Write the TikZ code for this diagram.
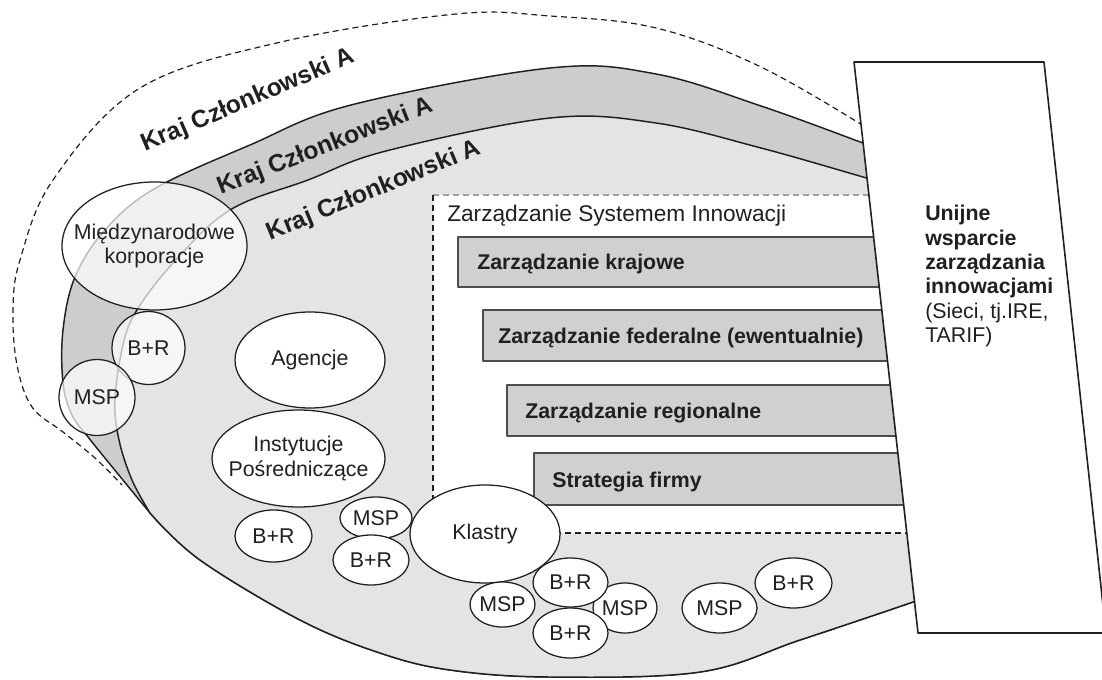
\documentclass[tikz,border=0pt]{standalone}
\usepackage{fontspec}
\setmainfont{Liberation Sans}
\usetikzlibrary{shapes.geometric}
\definecolor{bandgray}{HTML}{CDCDCF}
\definecolor{innergray}{HTML}{E4E4E6}
\definecolor{boxgray}{HTML}{D0D0D0}
\definecolor{ink}{HTML}{202020}
\newcommand\bodyfont{\fontsize{16pt}{18.3pt}\selectfont}
\newcommand\titlefont{\fontsize{17pt}{19pt}\selectfont}
\newcommand\lblfont{\bfseries\fontsize{18.5pt}{21pt}\selectfont}
\begin{document}
\begin{tikzpicture}[x=0.75pt,y=-0.75pt, line join=round,
  every node/.style={text=ink, font=\bodyfont, inner sep=0pt},
  rim/.style={draw=ink, line width=1.1pt},
  oval/.style 2 args={ellipse, draw=ink, line width=0.95pt, fill=white,
    minimum width={1.5pt*#1}, minimum height={1.5pt*#2}},
  glassy/.style={fill opacity=0.7},
  govbox/.style={draw=ink!80, line width=1.1pt, fill=boxgray},
  govtext/.style={anchor=base west, font=\bodyfont\bfseries},
  dashline/.style={draw=ink, line width=0.9pt, dash pattern=on 4.5pt off 3pt},
  ringlabel/.style={font=\lblfont, rotate=#1}
]
\useasboundingbox (0,0) rectangle (1102,680);

% middle ring (country level)
\filldraw[rim, fill=bandgray]
  plot[smooth, tension=0.6] coordinates {(900,157) (863,143) (761,106) (656,74) (550,68)
    (351,105) (250,145) (154,189) (105,230) (75,277) (63,330) (63,383) (72,415) (88,437)
    (118,474) (150,513)}
  -- plot[smooth, tension=0.6] coordinates {(150,513) (200,560) (300,620) (380,653)
    (450,670) (550,677) (700,672) (800,640) (913,602) (960,585)}
  -- (1000,585) -- (1000,157) -- cycle;

% inner ring
\filldraw[rim, fill=innergray]
  plot[smooth, tension=0.6] coordinates {(900,188) (863,177) (761,148) (656,123) (550,118)
    (386,151) (308,180) (230,210) (174,262) (137,310) (123,345) (115,400) (119,440)
    (132,480) (150,513)}
  -- plot[smooth, tension=0.6] coordinates {(150,513) (200,560) (300,620) (380,653)
    (450,670) (550,677) (700,672) (800,640) (913,602) (960,585)}
  -- (1000,585) -- (1000,188) -- cycle;

% outer dashed ring
\draw[dashline] plot[smooth, tension=0.6] coordinates {(872,131) (761,67) (656,28)
  (550,16) (456,14) (281,42) (140,88) (53,180) (20,260) (13,310) (17,365) (32,407)
  (63,432) (95,458) (122,485)};

% innovation system management frame
\path[fill=white] (433,195) rectangle (1000,533);
\draw[dashline, draw=gray!75] (433,195) -- (1000,195);
\draw[dashline] (433,195) -- (433,533) -- (1000,533);
\node[anchor=base west, font=\titlefont] (zsi) at (447,222) {Zarządzanie Systemem Innowacji};

% governance levels
\draw[govbox] (458,237) rectangle (1000,287);
\node[govtext] (kraj) at (477,270) {Zarządzanie krajowe};
\draw[govbox] (483,310) rectangle (1000,361);
\node[govtext] (fed) at (498,344) {Zarządzanie federalne (ewentualnie)};
\draw[govbox] (507,385) rectangle (1000,436);
\node[govtext] (reg) at (525,419) {Zarządzanie regionalne};
\draw[govbox] (534,453) rectangle (1000,505);
\node[govtext] (firm) at (552,487) {Strategia firmy};

% actors
\node[oval={75}{48}] (agen) at (310,360) {};
\node[oval={86.5}{48.5}] (inst) at (298.5,458.5) {};
\node[oval={38.5}{26}] (rda) at (273.5,536) {};
\node[oval={36}{21}] (smea) at (376,518) {};
\node[oval={38}{25}] (rdb) at (371,560) {};
\node[oval={75}{49}] (klastry) at (485,534) {};
\node[oval={32.5}{22.5}] (smeb) at (502.5,604.5) {};
\node[oval={32}{25}] (smec) at (625,608) {};
\node[oval={37.5}{24.5}] (rdc) at (570.5,582.5) {};
\node[oval={37.5}{25}] (rdd) at (570.5,633) {};
\node[oval={37.5}{25}] (smed) at (719.5,608) {};
\node[oval={38.5}{25}] (rde) at (793.5,583) {};
\node[oval={92.5}{64}, glassy] (mnc) at (154.5,246) {};
\node[oval={36.5}{36.5}, glassy] (rdl) at (148.5,348) {};
\node[oval={38}{38}, glassy] (smel) at (97,397.5) {};

\node[align=center] (agentxt) at (agen.center) {Agencje};
\node[align=center] (insttxt) at (inst.center) {Instytucje\\Pośredniczące};
\node (rdatxt) at (rda.center) {B+R};
\node (smeatxt) at (smea.center) {MSP};
\node (rdbtxt) at (rdb.center) {B+R};
\node (klastrytxt) at (klastry.center) {Klastry};
\node (smebtxt) at (smeb.center) {MSP};
\node (smectxt) at (smec.center) {MSP};
\node (rdctxt) at (rdc.center) {B+R};
\node (rddtxt) at (rdd.center) {B+R};
\node (smedtxt) at (smed.center) {MSP};
\node (rdetxt) at (rde.center) {B+R};
\node[align=center] (mnctxt) at (mnc.center) {Międzynarodowe\\korporacje};
\node (rdltxt) at (rdl.center) {B+R};
\node (smeltxt) at (smel.center) {MSP};

% ring labels
\node[ringlabel=23.2] (ringa) at (248,101) {Kraj Członkowski A};
\node[ringlabel=21.4] (ringb) at (325,147) {Kraj Członkowski A};
\node[ringlabel=22.4] (ringc) at (374,191) {Kraj Członkowski A};

% EU support panel
\draw[rim, line width=1.2pt, fill=white] (854,62) -- (1044,62) -- (1106,633) -- (918,633) -- cycle;
\node[anchor=north west, align=left] (eu) at (925,205)
  {\textbf{Unijne}\\\textbf{wsparcie}\\\textbf{zarządzania}\\\textbf{innowacjami}\\(Sieci, tj.IRE,\\TARIF)};
\end{tikzpicture}
\end{document}
